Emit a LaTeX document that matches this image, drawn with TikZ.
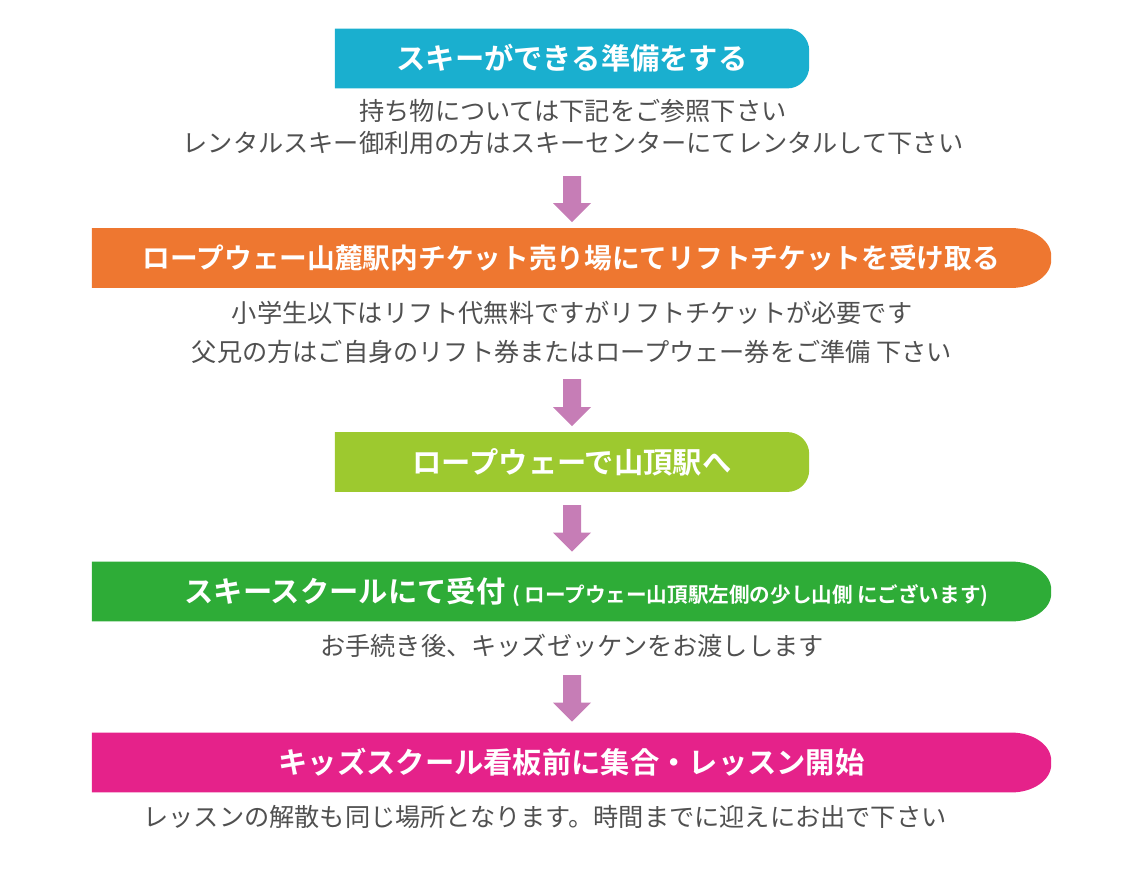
\documentclass[tikz,border=0pt]{standalone}
\usepackage{fontspec}
\setmainfont{Noto Sans CJK JP}[BoldFont={Noto Sans CJK JP Bold}]
\usepackage{tikz}
\usetikzlibrary{calc}
\definecolor{sky}{HTML}{1AAFCF}
\definecolor{tangerine}{HTML}{EE7730}
\definecolor{lime}{HTML}{9DC92F}
\definecolor{leaf}{HTML}{2EAC37}
\definecolor{berry}{HTML}{E5228A}
\definecolor{orchid}{HTML}{C67DB6}
\definecolor{graytext}{HTML}{505050}

% banner: flat left side, rounded right end (node, colour, rx, ry)
\newcommand{\bannerfill}[4]{%
  \fill[#2] (#1.north west) -- ($(#1.north east)+(-#3,0)$)
    .. controls ($(#1.north east)+({-0.4477*#3},0)$) and ($(#1.north east)+(0,{0.4477*#4})$) .. ($(#1.north east)+(0,#4)$)
    -- ($(#1.south east)+(0,-#4)$)
    .. controls ($(#1.south east)+(0,{-0.4477*#4})$) and ($(#1.south east)+({-0.4477*#3},0)$) .. ($(#1.south east)+(-#3,0)$)
    -- (#1.south west) -- cycle;}
% fat down arrow from tail to tip
\newcommand{\flowarrow}[2]{%
  \fill[orchid] ($(#1)+(-9,0)$) -- ($(#2)+(-9,-19)$) -- ($(#2)+(-19,-19)$) -- (#2)
    -- ($(#2)+(19,-19)$) -- ($(#2)+(9,-19)$) -- ($(#1)+(9,0)$) -- cycle;}

\begin{document}
\begin{tikzpicture}[x=1pt,y=-1pt,
   box/.style={inner sep=0pt,minimum height=59.5pt,minimum width=#1},
   title/.style={text=white,font=\bfseries\fontsize{29.3}{32}\selectfont,inner sep=0pt},
   note/.style={text=graytext,align=center,inner sep=0pt,font=\fontsize{25.2}{#1}\selectfont}]
  \useasboundingbox (0,0) rectangle (1142,881);

  % steps
  \node[box=474pt] (b1) at (572,58.5) {};
  \node[box=959pt] (b2) at (571.5,258) {};
  \node[box=474pt] (b3) at (572,462) {};
  \node[box=959pt] (b4) at (571.5,591.5) {};
  \node[box=959pt] (b5) at (571.5,762.5) {};
  \bannerfill{b1}{sky}{22}{22}
  \bannerfill{b2}{tangerine}{40}{28}
  \bannerfill{b3}{lime}{22}{22}
  \bannerfill{b4}{leaf}{40}{28}
  \bannerfill{b5}{berry}{40}{28}

  \node[title] (t1) at (b1) {スキーができる準備をする};
  \node[title,font=\bfseries\fontsize{27.7}{30}\selectfont] (t2) at (b2) {ロープウェー山麓駅内チケット売り場にてリフトチケットを受け取る};
  \node[title] (t3) at (b3) {ロープウェーで山頂駅へ};
  \node[title] (t4) at (586.5,592) {スキースクールにて受付 {\fontsize{20.6}{22}\selectfont( ロープウェー山頂駅左側の少し山側 にございます)}};
  \node[title] (t5) at (b5) {キッズスクール看板前に集合・レッスン開始};

  % notes
  \node[note=32pt] (n1) at (573,127) {持ち物については下記をご参照下さい\\レンタルスキー御利用の方はスキーセンターにてレンタルして下さい};
  \node[note=39pt] (n2) at (572,332) {小学生以下はリフト代無料ですがリフトチケットが必要です\\父兄の方はご自身のリフト券またはロープウェー券をご準備 下さい};
  \node[note=30pt] (n4) at (572,646) {お手続き後、キッズゼッケンをお渡しします};
  \node[note=30pt] (n5) at (545,817) {レッスンの解散も同じ場所となります。時間までに迎えにお出で下さい};

  % arrows
  \coordinate (a1) at (572,176);
  \coordinate (a2) at (572,379);
  \coordinate (a3) at (572,505);
  \coordinate (a4) at (572,675);
  \flowarrow{a1}{$(b2.north)+(0.5,-6)$}
  \flowarrow{a2}{$(b3.north)+(0,-6)$}
  \flowarrow{a3}{$(b4.north)+(0.5,-10)$}
  \flowarrow{a4}{$(b5.north)+(0.5,-11)$}
\end{tikzpicture}
\end{document}
